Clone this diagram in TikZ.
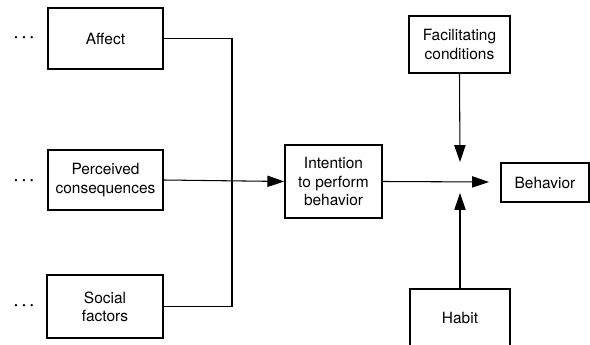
\documentclass[tikz,border=0pt]{standalone}
\usepackage{fontspec}
\setsansfont{TeX Gyre Heros}
\usepackage{tikz}
\usetikzlibrary{arrows.meta, positioning}
\newcommand{\boxfont}{\sffamily\fontsize{11}{13}\selectfont}

\begin{document}
\begin{tikzpicture}[
    x=0.25mm, y=-0.25mm,
    factor_box/.style={draw=black, line width=1.1pt, align=center, font=\boxfont, inner sep=1pt},
    dots_node/.style={font=\boxfont\boldmath, inner sep=0pt},
    link/.style={draw=black, line width=0.75pt},
    arrow/.style={link, -{Triangle[length=4.2mm, width=2.8mm]}}
]
    \useasboundingbox (0,0) rectangle (590,345);

    % Antecedents on the left
    \node[factor_box, minimum width=28.75mm, minimum height=15.25mm] (affect) at (105.5,38.5) {Affect};
    \node[factor_box, minimum width=28.75mm, minimum height=15mm] (perc_cons) at (105.5,180) {Perceived\\consequences};
    \node[factor_box, minimum width=29mm, minimum height=15.75mm] (social) at (105,306.5) {Social\\factors};

    % Dots in front of each antecedent
    \node[dots_node] (dots_affect) at (24,38) {$\cdots$};
    \node[dots_node] (dots_perc) at (24,181) {$\cdots$};
    \node[dots_node] (dots_social) at (24,306) {$\cdots$};

    % Intention and behavior
    \node[factor_box, minimum width=24.25mm, minimum height=18.25mm] (intention) at (333.5,181.5) {Intention\\to perform\\behavior};
    \node[factor_box, minimum width=22mm, minimum height=9.75mm] (behavior) at (545,182.5) {Behavior};

    % Moderators above and below
    \node[factor_box, minimum width=25.25mm, minimum height=14.25mm] (facil) at (459.5,44.5) {Facilitating\\conditions};
    \node[factor_box, minimum width=25mm, minimum height=14.5mm] (habit) at (460,318) {Habit};

    % Points where the arrows end, in front of behavior
    \coordinate (merge) at (232,180);
    \coordinate (join_w) at (489,182);
    \coordinate (join_n) at (460,162);
    \coordinate (join_s) at (460,193);

    % Affect and social factors joined on one line
    \draw[link] (affect.east) -| (merge) |- (social.east);
    \draw[arrow] (perc_cons.east) -- (intention.west);

    % Into behavior
    \draw[arrow] (intention.east) -- (join_w);
    \draw[arrow] (facil.south) -- (join_n);
    \draw[arrow] (habit.north) -- (join_s);

\end{tikzpicture}
\end{document}
